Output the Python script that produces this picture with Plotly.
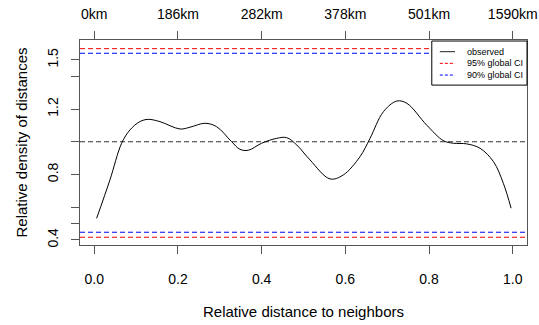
import plotly.graph_objects as go

# observed curve (relative distance vs relative density)
obs_x = [0.0057, 0.0375, 0.0655, 0.0853, 0.109, 0.129, 0.157, 0.205, 0.229, 0.2646,
         0.2925, 0.328, 0.348, 0.368, 0.400, 0.436, 0.460, 0.484, 0.5155, 0.5633,
         0.595, 0.635, 0.659, 0.691, 0.723, 0.747, 0.794, 0.834, 0.858, 0.890,
         0.922, 0.954, 0.9775, 0.996]
obs_y = [0.532, 0.767, 0.991, 1.072, 1.123, 1.137, 1.123, 1.078, 1.089, 1.113,
         1.092, 1.001, 0.954, 0.948, 0.991, 1.021, 1.025, 0.980, 0.889, 0.773,
         0.797, 0.909, 1.021, 1.184, 1.249, 1.235, 1.103, 1.007, 0.991, 0.987,
         0.960, 0.878, 0.746, 0.594]

ci95 = [0.4165, 1.569]
ci90 = [0.447, 1.541]
ref_level = 1.0

bottom_ticks = [0.0, 0.2, 0.4, 0.6, 0.8, 1.0]
bottom_labels = ["0.0", "0.2", "0.4", "0.6", "0.8", "1.0"]
top_labels = ["0km", "186km", "282km", "378km", "501km", "1590km"]
y_ticks = [0.4, 0.5, 0.6, 0.8, 1.0, 1.2, 1.4, 1.5]
y_labels = ["0.4", "", "", "0.8", "", "1.2", "", "1.5"]

legend_names = ["observed", "95% global CI", "90% global CI"]
legend_colors = ["#222222", "#FF0000", "#0000FF"]
legend_dash = ["solid", "3px,2px", "3px,2px"]

xr = [-0.034, 1.034]
yr = [0.369, 1.622]

FONT = "Liberation Sans, Arial, sans-serif"
AX = "#555555"
DASH = "5px,3px"
TICKSIZE = 14
TITLESIZE = 15

fig = go.Figure()

fig.add_trace(go.Scatter(
    x=[xr[0], xr[1]], y=[ref_level, ref_level], mode="lines",
    line=dict(color="#333333", width=1, dash=DASH),
    showlegend=False, hoverinfo="skip"))

fig.add_trace(go.Scatter(
    x=obs_x, y=obs_y, mode="lines", name=legend_names[0], showlegend=False,
    line=dict(color="black", width=1, shape="spline", smoothing=1.0)))

fig.add_trace(go.Scatter(
    x=[xr[0], xr[1], None, xr[0], xr[1]],
    y=[ci95[0], ci95[0], None, ci95[1], ci95[1]],
    mode="lines", name=legend_names[1], showlegend=False,
    line=dict(color="#FF0000", width=1, dash=DASH)))

fig.add_trace(go.Scatter(
    x=[xr[0], xr[1], None, xr[0], xr[1]],
    y=[ci90[0], ci90[0], None, ci90[1], ci90[1]],
    mode="lines", name=legend_names[2], showlegend=False,
    line=dict(color="#0000FF", width=1, dash=DASH)))

# dummy trace to activate top axis
fig.add_trace(go.Scatter(x=[None], y=[None], xaxis="x2", showlegend=False,
                         hoverinfo="skip"))

# manual legend box (R-style)
shapes = [dict(type="rect", xref="paper", yref="paper",
               x0=0.787, x1=1.0, y0=0.780, y1=0.995,
               line=dict(color="black", width=1), fillcolor="white", layer="above")]
annotations = []
entry_y = [0.943, 0.886, 0.829]
for name, col, dsh, yy in zip(legend_names, legend_colors, legend_dash, entry_y):
    shapes.append(dict(type="line", xref="paper", yref="paper",
                       x0=0.805, x1=0.839, y0=yy, y1=yy,
                       line=dict(color=col, width=1, dash=dsh), layer="above"))
    annotations.append(dict(xref="paper", yref="paper", x=0.861, y=yy,
                            xanchor="left", yanchor="middle", showarrow=False,
                            text=name, font=dict(size=9, family=FONT, color="black")))

fig.update_layout(
    width=539, height=325,
    margin=dict(l=80, r=12, t=40, b=80, autoexpand=False),
    paper_bgcolor="white", plot_bgcolor="white",
    font=dict(family=FONT, size=12, color="black"),
    showlegend=False,
    shapes=shapes, annotations=annotations,
    xaxis=dict(
        range=xr, tickvals=bottom_ticks, ticktext=bottom_labels,
        ticks="outside", ticklen=8, tickcolor=AX, automargin=False,
        showgrid=False, zeroline=False,
        showline=True, linecolor=AX, linewidth=1, mirror=True,
        tickfont=dict(size=TICKSIZE), ticklabelstandoff=13,
        title=dict(text="Relative distance to neighbors", font=dict(size=TITLESIZE), standoff=20),
    ),
    xaxis2=dict(
        range=xr, overlaying="x", side="top", tickvals=bottom_ticks,
        ticktext=top_labels, ticks="outside", ticklen=8, tickcolor=AX,
        automargin=False,
        showgrid=False, zeroline=False, showline=False,
        tickfont=dict(size=TICKSIZE), ticklabelstandoff=6,
    ),
    yaxis=dict(
        range=yr, tickvals=y_ticks, ticktext=y_labels, automargin=False,
        ticks="outside", ticklen=8, tickcolor=AX, tickangle=-90,
        showgrid=False, zeroline=False,
        showline=True, linecolor=AX, linewidth=1, mirror=True,
        tickfont=dict(size=TICKSIZE), ticklabelstandoff=7,
        title=dict(text="Relative density of distances", font=dict(size=TITLESIZE), standoff=14),
    ),
)

fig.write_html("out.html")
